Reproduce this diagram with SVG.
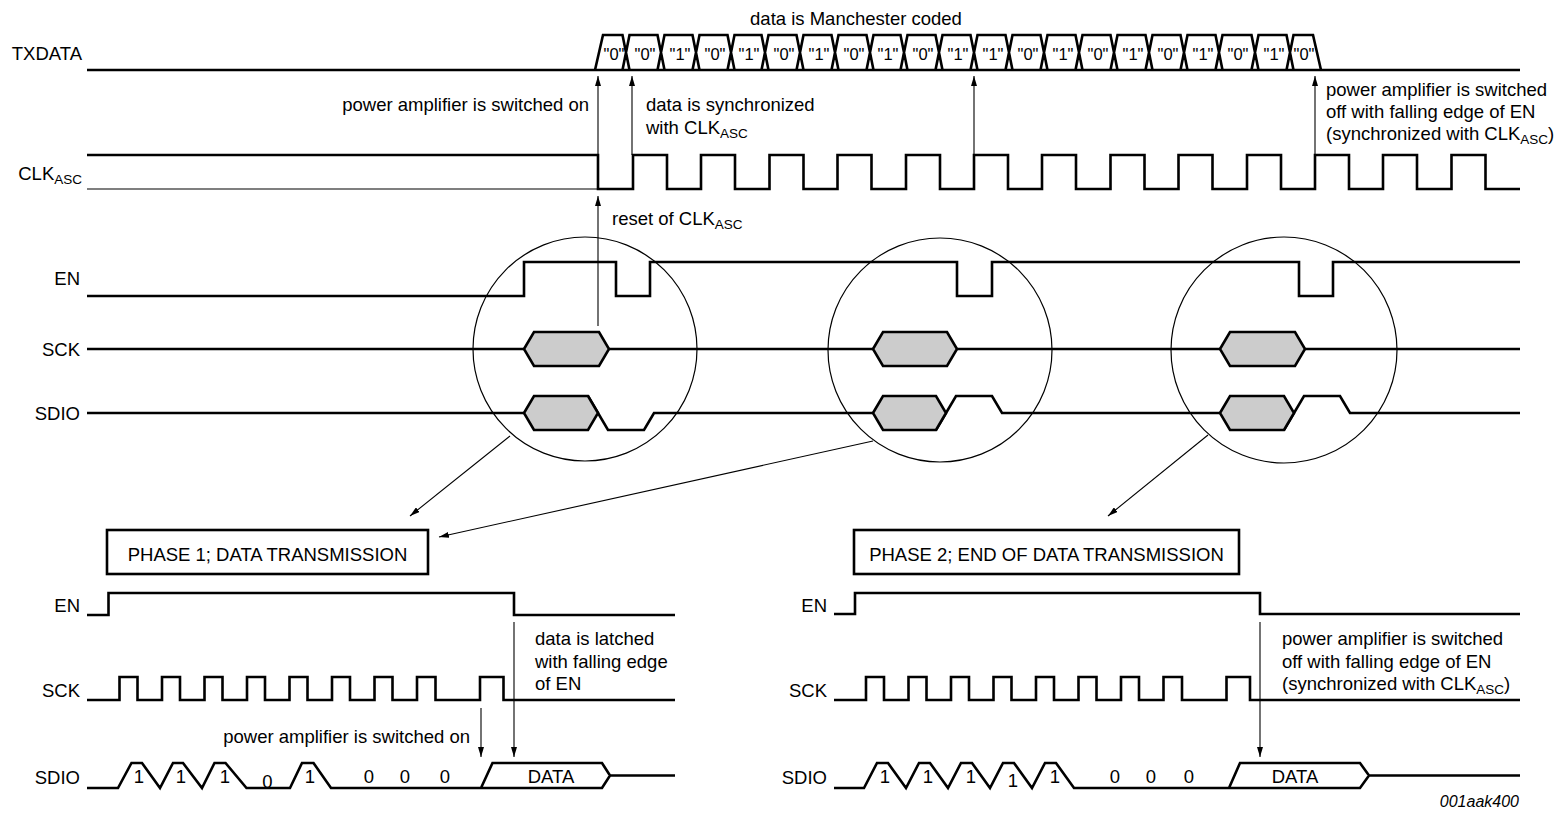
<svg xmlns="http://www.w3.org/2000/svg" width="1564" height="813" viewBox="0 0 1564 813">
<defs>
<style>
.sig{fill:none;stroke:#000;stroke-width:2.6;stroke-linejoin:miter}
.thin{fill:none;stroke:#000;stroke-width:1.1}
.arr{fill:none;stroke:#000;stroke-width:1.1;marker-end:url(#ah)}
.hex{fill:#ccc;stroke:#000;stroke-width:2.6;stroke-linejoin:miter}
.box{fill:#fff;stroke:#000;stroke-width:2.6}
.circ{fill:none;stroke:#000;stroke-width:1.2}
text{font-family:"Liberation Sans",Arial,Helvetica,sans-serif;font-size:18.5px;fill:#000}
.sub{font-size:13.5px}
.bus{font-size:16.5px;text-anchor:middle}
.mid{text-anchor:middle}
.end{text-anchor:end}
.it{font-style:italic;font-size:16px}
</style>
<marker id="ah" markerWidth="10" markerHeight="6" refX="10" refY="3" orient="auto" markerUnits="userSpaceOnUse"><path d="M0,0 L10,3 L0,6 z" fill="#000"/></marker>
</defs>

<g id="top-labels">
<text x="82" y="60" class="end">TXDATA</text>
<text x="82" y="180" class="end">CLK<tspan class="sub" dy="4">ASC</tspan></text>
<text x="80" y="285" class="end">EN</text>
<text x="80" y="356" class="end">SCK</text>
<text x="80" y="420" class="end">SDIO</text>
</g>

<g id="txdata">
<text x="856" y="25" class="mid">data is Manchester coded</text>
<path class="sig" d="M87,70 H1520"/>
<path class="sig" d="M595,70 L603,35 H622.5 L629.5,70 M622.5,70 L629.5,35 H657.5 L664.5,70 M657.5,70 L664.5,35 H692.5 L699.5,70 M692.5,70 L699.5,35 H727.5 L734.5,70 M727.5,70 L734.5,35 H761.5 L768.5,70 M761.5,70 L768.5,35 H796.5 L803.5,70 M796.5,70 L803.5,35 H831.5 L838.5,70 M831.5,70 L838.5,35 H866.5 L873.5,70 M866.5,70 L873.5,35 H900.5 L907.5,70 M900.5,70 L907.5,35 H935.5 L942.5,70 M935.5,70 L942.5,35 H970.5 L977.5,70 M970.5,70 L977.5,35 H1005.5 L1012.5,70 M1005.5,70 L1012.5,35 H1040.5 L1047.5,70 M1040.5,70 L1047.5,35 H1075.5 L1082.5,70 M1075.5,70 L1082.5,35 H1110.5 L1117.5,70 M1110.5,70 L1117.5,35 H1145.5 L1152.5,70 M1145.5,70 L1152.5,35 H1180.5 L1187.5,70 M1180.5,70 L1187.5,35 H1215.5 L1222.5,70 M1215.5,70 L1222.5,35 H1251.5 L1258.5,70 M1251.5,70 L1258.5,35 H1286.5 L1293.5,70 M1286.5,70 L1293.5,35 H1313 L1321,70"/>
<text class="bus" x="614" y="60">"0"</text>
<text class="bus" x="645" y="60">"0"</text>
<text class="bus" x="680" y="60">"1"</text>
<text class="bus" x="715" y="60">"0"</text>
<text class="bus" x="749" y="60">"1"</text>
<text class="bus" x="784" y="60">"0"</text>
<text class="bus" x="819" y="60">"1"</text>
<text class="bus" x="854" y="60">"0"</text>
<text class="bus" x="888" y="60">"1"</text>
<text class="bus" x="923" y="60">"0"</text>
<text class="bus" x="958" y="60">"1"</text>
<text class="bus" x="993" y="60">"1"</text>
<text class="bus" x="1028" y="60">"0"</text>
<text class="bus" x="1063" y="60">"1"</text>
<text class="bus" x="1098" y="60">"0"</text>
<text class="bus" x="1133" y="60">"1"</text>
<text class="bus" x="1168" y="60">"0"</text>
<text class="bus" x="1203" y="60">"1"</text>
<text class="bus" x="1238" y="60">"0"</text>
<text class="bus" x="1274" y="60">"1"</text>
<text class="bus" x="1304" y="60">"0"</text>
</g>

<g id="clkasc">
<path class="thin" d="M87,189 H598"/>
<path class="sig" d="M87,155 H598 V189 H633 V155 H667 V189 H701 V155 H735 V189 H769.5 V155 H803.5 V189 H837.5 V155 H871.5 V189 H906 V155 H940 V189 H974 V155 H1008 V189 H1042 V155 H1076 V189 H1110.5 V155 H1144.5 V189 H1178.5 V155 H1212.5 V189 H1247 V155 H1281 V189 H1315 V155 H1349 V189 H1383 V155 H1417 V189 H1451.5 V155 H1485.5 V189 H1520"/>
</g>

<g id="en-top">
<path class="sig" d="M87,296 H524 V262 H616 V296 H650 V262 H957 V296 H992 V262 H1299 V296 H1333 V262 H1520"/>
</g>

<g id="sck-top">
<path class="sig" d="M87,349 H524 M609,349 H873 M957,349 H1220 M1305,349 H1520"/>
<polygon class="hex" points="524,349 534,332 599,332 609,349 599,366 534,366"/>
<polygon class="hex" points="873,349 883,332 947,332 957,349 947,366 883,366"/>
<polygon class="hex" points="1220,349 1230,332 1295,332 1305,349 1295,366 1230,366"/>
</g>

<g id="sdio-top">
<path class="sig" d="M87,413 H524 M588,396 L608,430 H644 L654,413 H873 M936,430 L956,396 H992 L1002,413 H1220 M1284,430 L1304,396 H1340 L1350,413 H1520"/>
<polygon class="hex" points="524,413 534,396 588,396 598,413 588,430 534,430"/>
<polygon class="hex" points="873,413 883,396 936,396 946,413 936,430 883,430"/>
<polygon class="hex" points="1220,413 1230,396 1284,396 1294,413 1284,430 1230,430"/>
</g>

<g id="circles">
<circle class="circ" cx="585" cy="349" r="112"/>
<circle class="circ" cx="940" cy="350" r="112"/>
<circle class="circ" cx="1284" cy="350" r="113"/>
</g>

<g id="annotations-top">
<text x="589" y="111" class="end">power amplifier is switched on</text>
<text x="646" y="111">data is synchronized</text>
<text x="646" y="134">with CLK<tspan class="sub" dy="4">ASC</tspan></text>
<text x="1326" y="96">power amplifier is switched</text>
<text x="1326" y="118">off with falling edge of EN</text>
<text x="1326" y="140">(synchronized with CLK<tspan class="sub" dy="4">ASC</tspan><tspan dy="-4">)</tspan></text>
<text x="612" y="225">reset of CLK<tspan class="sub" dy="4">ASC</tspan></text>
</g>

<g id="phase1-box">
<rect class="box" x="107" y="530" width="321" height="44"/>
<text x="267.5" y="561" class="mid">PHASE 1; DATA TRANSMISSION</text>
</g>

<g id="phase2-box">
<rect class="box" x="854" y="530" width="385" height="44"/>
<text x="1046.5" y="561" class="mid">PHASE 2; END OF DATA TRANSMISSION</text>
</g>

<g id="phase1-diagram">
<text x="80" y="612" class="end">EN</text>
<text x="80" y="697" class="end">SCK</text>
<text x="80" y="784" class="end">SDIO</text>
<path class="sig" d="M87,615 H108.5 V593 H514 V615 H675"/>
<path class="sig" d="M87,700 H119.5 V677 H137.5 V700 H162 V677 H180 V700 H204.5 V677 H222.5 V700 H247 V677 H265 V700 H289.5 V677 H307.5 V700 H332 V677 H350 V700 H374.5 V677 H392.5 V700 H417 V677 H435.5 V700 H480 V677 H503.5 V700 H675"/>
<path class="sig" d="M87,788 H118 L131.5,763 H142 L160,788 L173,763 H183 L202,788 L214.5,763 H225.5 L246.5,788 H290 L302,763 H313.5 L331,788 H602 L610,775.5 H675 M481,788 L492.5,763 H602 L610,775.5"/>
<text x="139" y="783" class="mid">1</text>
<text x="181" y="783" class="mid">1</text>
<text x="225" y="783" class="mid">1</text>
<text x="267.5" y="788" class="mid">0</text>
<text x="310" y="783" class="mid">1</text>
<text x="369" y="783" class="mid">0</text>
<text x="405" y="783" class="mid">0</text>
<text x="445" y="783" class="mid">0</text>
<text x="551" y="783" class="mid">DATA</text>
<text x="535" y="645">data is latched</text>
<text x="535" y="667.5">with falling edge</text>
<text x="535" y="690">of EN</text>
<text x="470" y="743" class="end">power amplifier is switched on</text>
</g>

<g id="phase2-diagram">
<text x="827" y="612" class="end">EN</text>
<text x="827" y="697" class="end">SCK</text>
<text x="827" y="784" class="end">SDIO</text>
<path class="sig" d="M834,614 H855 V593 H1260 V614 H1520"/>
<path class="sig" d="M834,700 H866 V677 H884 V700 H908.5 V677 H926.5 V700 H951 V677 H969 V700 H993.5 V677 H1011.5 V700 H1036 V677 H1054 V700 H1078.5 V677 H1096.5 V700 H1121 V677 H1139 V700 H1163.5 V677 H1182 V700 H1226.5 V677 H1250 V700 H1520"/>
<path class="sig" d="M834,788 H864 L877,763 H888 L906,788 L919,763 H930 L948,788 L961,763 H972 L990,788 L1003,763 H1014 L1032,788 L1045,763 H1056 L1074,788 H1360 L1369,775.5 H1520 M1229,788 L1240,763 H1360 L1369,775.5"/>
<text x="885" y="783" class="mid">1</text>
<text x="928" y="783" class="mid">1</text>
<text x="971" y="783" class="mid">1</text>
<text x="1013" y="787" class="mid">1</text>
<text x="1055" y="783" class="mid">1</text>
<text x="1115" y="783" class="mid">0</text>
<text x="1151" y="783" class="mid">0</text>
<text x="1189" y="783" class="mid">0</text>
<text x="1295" y="783" class="mid">DATA</text>
<text x="1282" y="645">power amplifier is switched</text>
<text x="1282" y="667.5">off with falling edge of EN</text>
<text x="1282" y="690">(synchronized with CLK<tspan class="sub" dy="4">ASC</tspan><tspan dy="-4">)</tspan></text>
<text x="1519" y="807" class="end it">001aak400</text>
</g>

<g id="connectors">
<path class="arr" d="M598,155 L598,76"/>
<path class="arr" d="M632,155 L632,76"/>
<path class="arr" d="M974,155 L974,76"/>
<path class="arr" d="M1315,155 L1315,76"/>
<path class="arr" d="M598,326 L598,196"/>
<path class="arr" d="M510,436 L410,516"/>
<path class="arr" d="M873,441 L439,537"/>
<path class="arr" d="M1208,435 L1108,516"/>
<path class="arr" d="M481,708 L481,757"/>
<path class="arr" d="M514,622 L514,757"/>
<path class="arr" d="M1260,622 L1260,757"/>
</g>
</svg>
